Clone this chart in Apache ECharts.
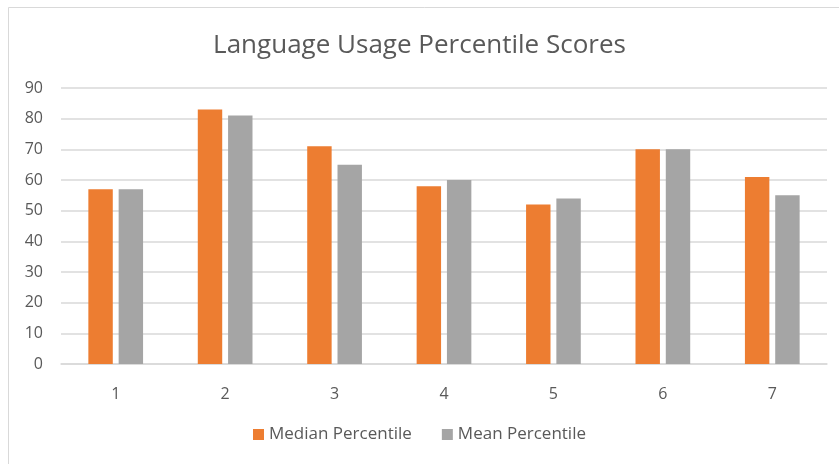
<!DOCTYPE html>
<html>
<head>
<meta charset="utf-8">
<script src="https://cdn.jsdelivr.net/npm/echarts@6/dist/echarts.min.js"></script>
<style>
  html, body { margin: 0; padding: 0; background: #fff; }
  #chart { width: 839px; height: 464px; }
</style>
</head>
<body>
<div id="chart"></div>
<script>
// data
const categories = ['1', '2', '3', '4', '5', '6', '7']
const medianPercentile = [57, 83, 71, 58, 52, 70, 61]
const meanPercentile = [57, 81, 65, 60, 54, 70, 55]
const yTicks = { min: 0, max: 90, interval: 10 }

const textColor = '#595959'
const fontFamily = '"Open Sans", "Liberation Sans", sans-serif'

var myChart = echarts.init(document.getElementById('chart'))

var option = {
    backgroundColor: '#fff',
    animation: false,
    // outer chart frame like excel
    graphic: [{
        type: 'rect',
        shape: { x: 8.5, y: 7.5, width: 840, height: 460 },
        style: { fill: 'none', stroke: '#d9d9d9', lineWidth: 1 },
        silent: true
    }],
    title: {
        text: 'Language Usage Percentile Scores',
        left: 'center',
        top: 28,
        textStyle: {
            fontFamily: fontFamily,
            fontWeight: 'normal',
            fontSize: 26,
            color: textColor
        }
    },
    legend: {
        bottom: 16,
        left: 'center',
        itemWidth: 11,
        itemHeight: 11,
        itemGap: 30,
        icon: 'rect',
        textStyle: {
            fontFamily: fontFamily,
            fontSize: 17,
            color: textColor
        }
    },
    grid: { left: 61, right: 12, top: 88, bottom: 100 },
    xAxis: {
        type: 'category',
        data: categories,
        axisTick: { show: false },
        axisLine: { lineStyle: { color: '#d9d9d9', width: 1.5 } },
        axisLabel: {
            margin: 22,
            fontFamily: fontFamily,
            fontSize: 16,
            color: textColor
        }
    },
    yAxis: {
        type: 'value',
        min: yTicks.min,
        max: yTicks.max,
        interval: yTicks.interval,
        axisLine: { show: false },
        axisTick: { show: false },
        splitLine: { lineStyle: { color: '#d9d9d9', width: 1.5 } },
        axisLabel: {
            margin: 18,
            fontFamily: fontFamily,
            fontSize: 16,
            color: textColor
        }
    },
    series: [
        {
            name: 'Median Percentile',
            type: 'bar',
            data: medianPercentile,
            itemStyle: { color: '#ED7D31' },
            barGap: '24%',
            barCategoryGap: '50%'
        },
        {
            name: 'Mean Percentile',
            type: 'bar',
            data: meanPercentile,
            itemStyle: { color: '#A5A5A5' },
            barGap: '24%',
            barCategoryGap: '50%'
        }
    ]
}

myChart.setOption(option)
</script>
</body>
</html>
